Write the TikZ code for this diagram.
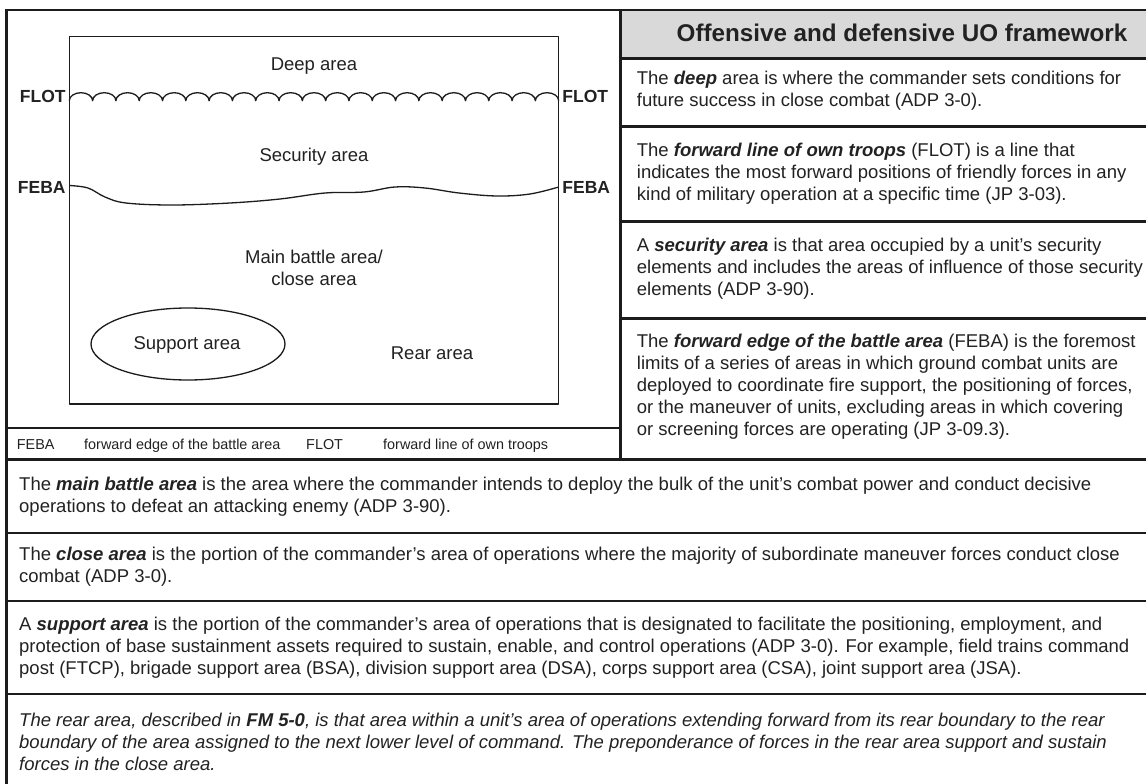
\documentclass[tikz,border=0pt]{standalone}
\usepackage{fontspec}
\setmainfont{Liberation Sans}
\definecolor{linecol}{HTML}{1C1C1C}
\definecolor{txtcol}{HTML}{222222}
\definecolor{hdrfill}{HTML}{D9D9D9}
\begin{document}
\begin{tikzpicture}[x=1pt,y=-1pt,
  rule/.style={line width=2.6pt, draw=linecol},
  thinline/.style={line width=1.3pt, draw=linecol, line join=round},
  body/.style={anchor=west, inner sep=0pt, align=left, text=txtcol,
    font=\fontsize{18.5}{22}\selectfont},
  lbl/.style={inner sep=0pt, align=center, text=txtcol,
    font=\fontsize{18.5}{22.5}\selectfont},
  linelbl/.style={inner sep=0pt, text=txtcol, font=\bfseries\fontsize{17.5}{19}\selectfont},
  legend/.style={anchor=base west, inner sep=0pt, text=txtcol, font=\fontsize{14.4}{16}\selectfont}
]
\useasboundingbox (0,0) rectangle (1146,784);
\clip (0,0) rectangle (1146,784);
\fill[white] (0,0) rectangle (1146,784);

% header cell
\fill[hdrfill] (620.7,10) rectangle (1150,58.3);
\node[inner sep=0pt, text=txtcol, font=\bfseries\fontsize{24.2}{27}\selectfont] (hdr) at (902,33) {Offensive and defensive UO framework};

% table rules
\draw[rule] (6.5,790) -- (6.5,10) -- (1150,10);
\draw[rule] (620.7,10) -- (620.7,459.5);
\draw[rule] (620.7,58.3) -- (1150,58.3);
\draw[rule] (620.7,126.7) -- (1150,126.7);
\draw[rule] (620.7,221.7) -- (1150,221.7);
\draw[rule] (620.7,318.3) -- (1150,318.3);
\draw[rule] (6.5,428) -- (620.7,428);
\draw[rule] (6.5,459.5) -- (1150,459.5);
\draw[rule] (6.5,533) -- (1150,533);
\draw[rule] (6.5,601) -- (1150,601);
\draw[rule] (6.5,694) -- (1150,694);

% right column texts
\node[body] (deep) at (636.7,91) {The \textbf{\textit{deep}} area is where the commander sets conditions for\\future success in close combat (ADP 3-0).};
\node[body] (flotdef) at (636.7,173.3) {The \textbf{\textit{forward line of own troops}} (FLOT) is a line that\\indicates the most forward positions of friendly forces in any\\kind of military operation at a specific time (JP 3-03).};
\node[body] (secdef) at (636.7,268.8) {A \textbf{\textit{security area}} is that area occupied by a unit’s security\\elements and includes the areas of influence of those security\\elements (ADP 3-90).};
\node[body] (febadef) at (636.7,387) {The \textbf{\textit{forward edge of the battle area}} (FEBA) is the foremost\\limits of a series of areas in which ground combat units are\\deployed to coordinate fire support, the positioning of forces,\\or the maneuver of units, excluding areas in which covering\\or screening forces are operating (JP 3-09.3).};

% bottom rows
\node[body] (mba) at (19,496.5) {The \textbf{\textit{main battle area}} is the area where the commander intends to deploy the bulk of the unit’s combat power and conduct decisive\\operations to defeat an attacking enemy (ADP 3-90).};
\node[body] (close) at (19,567) {The \textbf{\textit{close area}} is the portion of the commander’s area of operations where the majority of subordinate maneuver forces conduct close\\combat (ADP 3-0).};
\node[body] (supp) at (19,647.8) {A \textbf{\textit{support area}} is the portion of the commander’s area of operations that is designated to facilitate the positioning, employment, and\\protection of base sustainment assets required to sustain, enable, and control operations (ADP 3-0). For example, field trains command\\post (FTCP), brigade support area (BSA), division support area (DSA), corps support area (CSA), joint support area (JSA).};
\node[body, font=\itshape\fontsize{18.5}{22}\selectfont] (rear) at (19,742) {The rear area, described in \textbf{FM 5-0}, is that area within a unit’s area of operations extending forward from its rear boundary to the rear\\boundary of the area assigned to the next lower level of command. The preponderance of forces in the rear area support and sustain\\forces in the close area.};

% legend
\node[legend] (lg1) at (16.7,449) {FEBA};
\node[legend] (lg2) at (84,449) {forward edge of the battle area};
\node[legend] (lg3) at (306,449) {FLOT};
\node[legend] (lg4) at (383,449) {forward line of own troops};

% diagram
\draw[thinline] (69.3,36.7) rectangle (558.7,404);
\node[lbl] (deeparea) at (314,65.7) {Deep area};
\node[lbl] (secarea) at (314,156.7) {Security area};
\node[lbl] (mainarea) at (314,268) {Main battle area/\\close area};
\node[lbl] (reararea) at (432,353.3) {Rear area};
\draw[thinline] (188,344) ellipse [x radius=97pt, y radius=36pt];
\node[lbl] (supparea) at (187,345) {Support area};

% FLOT scalloped line
\coordinate (flotL) at (69.3,100.7);
\coordinate (flotR) at (558.7,100.7);
\draw[thinline] (flotL)
  \foreach \i in {1,...,21} { arc[start angle=180, end angle=0, x radius=11.652pt, y radius=8pt] };
\node[linelbl, anchor=east] (flotl) at ([xshift=-3.5pt, yshift=4pt]flotL) {FLOT};
\node[linelbl, anchor=west] (flotr) at ([xshift=3.5pt, yshift=4pt]flotR) {FLOT};

% FEBA wavy line
\coordinate (febaL) at (69.3,185.5);
\coordinate (febaR) at (558.7,187);
\draw[thinline] plot[smooth, tension=0.6] coordinates {(69.3,185.5) (88,188) (105,197) (126,203) (172,205) (230,203) (280,199) (325,193) (364,192) (395,187) (425,188) (459,193) (497,196) (530,194) (558.7,187)};
\node[linelbl, anchor=east] (febal) at ([xshift=-3.5pt, yshift=-2pt]febaL) {FEBA};
\node[linelbl, anchor=west] (febar) at ([xshift=3.5pt]febaR) {FEBA};
\end{tikzpicture}
\end{document}
